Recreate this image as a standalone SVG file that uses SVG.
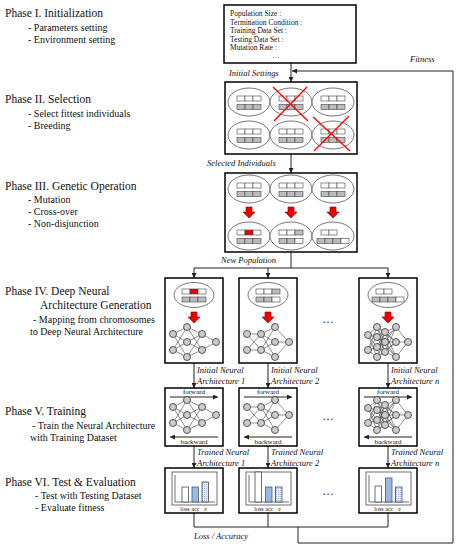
<svg xmlns="http://www.w3.org/2000/svg" xmlns:xlink="http://www.w3.org/1999/xlink" width="461" height="550" viewBox="0 0 461 550" font-family="'Liberation Serif','Times New Roman',serif">
<style>
text{font-family:"Liberation Serif","Times New Roman",serif;fill:#111}
.ph{font-size:11.5px}
.sub{font-size:10px}
.par{font-size:7.5px}
.lab{font-size:8.5px;font-style:italic}
.sm{font-size:7px}
.xs{font-size:6px}
.box{fill:#fff;stroke:#000;stroke-width:1.5}
.ell{fill:#fff;stroke:#555;stroke-width:0.8}
.cw{fill:#fff;stroke:#444;stroke-width:0.6}
.cg{fill:#bbb;stroke:#444;stroke-width:0.6}
.cr{fill:#e00;stroke:#444;stroke-width:0.6}
.ln{fill:none;stroke:#222;stroke-width:1}
.edge{fill:none;stroke:#222;stroke-width:0.5}
.nd{fill:#ccc;stroke:#333;stroke-width:0.8}
.rar{fill:#e00;stroke:#800;stroke-width:0.6}
.x{stroke:#f00;stroke-width:1.3}
.fr{fill:none;stroke:#333;stroke-width:0.7}
.bw{fill:#fff;stroke:#333;stroke-width:0.7}
.bb{fill:#9db9de;stroke:#2a4a7a;stroke-width:0.7}
.bl{fill:url(#dots);stroke:#333;stroke-width:0.7}
</style>
<defs>
<marker id="ah" viewBox="0 0 6 6" refX="6" refY="3" markerWidth="5" markerHeight="5" markerUnits="userSpaceOnUse" orient="auto"><path d="M0,0L6,3L0,6z" fill="#222"/></marker>
<pattern id="dots" width="2" height="2" patternUnits="userSpaceOnUse"><rect width="2" height="2" fill="#e4eef8"/><rect width="1" height="1" fill="#9db9de"/></pattern>
<g id="cells"><rect class="cw" x="-12" y="-6" width="8" height="5"/><rect class="cw" x="-4" y="-6" width="8" height="5"/><rect class="cw" x="4" y="-6" width="8" height="5"/><rect class="cg" x="-12" y="2.5" width="8" height="5"/><rect class="cg" x="-4" y="2.5" width="8" height="5"/><rect class="cg" x="4" y="2.5" width="8" height="5"/></g>
<g id="ind"><ellipse class="ell" rx="21" ry="14"/><use xlink:href="#cells"/></g>
<path id="rarrow" class="rar" d="M-3,0H3V5H6L0,11L-6,5H-3Z"/>
<g id="net1"><path class="edge" d="M-21,-8L-7,-15M-21,-8L-7,0M-21,-8L-7,15M-21,8L-7,-15M-21,8L-7,0M-21,8L-7,15M-7,-15L8,-8M-7,-15L8,8M-7,0L8,-8M-7,0L8,8M-7,15L8,-8M-7,15L8,8M8,-8L22,0M8,8L22,0"/><circle class="nd" cx="-21" cy="-8" r="3.5"/><circle class="nd" cx="-21" cy="8" r="3.5"/><circle class="nd" cx="-7" cy="-15" r="3.5"/><circle class="nd" cx="-7" cy="0" r="3.5"/><circle class="nd" cx="-7" cy="15" r="3.5"/><circle class="nd" cx="8" cy="-8" r="3.5"/><circle class="nd" cx="8" cy="8" r="3.5"/><circle class="nd" cx="22" cy="0" r="3.5"/></g>
<g id="net2"><path class="edge" d="M-21,-8L-7,-8M-21,-8L-7,8M-21,8L-7,-8M-21,8L-7,8M-7,-8L7,-15M-7,-8L7,0M-7,-8L7,15M-7,8L7,-15M-7,8L7,0M-7,8L7,15M7,-15L21,0M7,0L21,0M7,15L21,0"/><circle class="nd" cx="-21" cy="-8" r="3.5"/><circle class="nd" cx="-21" cy="8" r="3.5"/><circle class="nd" cx="-7" cy="-8" r="3.5"/><circle class="nd" cx="-7" cy="8" r="3.5"/><circle class="nd" cx="7" cy="-15" r="3.5"/><circle class="nd" cx="7" cy="0" r="3.5"/><circle class="nd" cx="7" cy="15" r="3.5"/><circle class="nd" cx="21" cy="0" r="3.5"/></g>
<g id="net3"><path class="edge" d="M-20,-7L-11,-15M-20,-7L-11,-5M-20,-7L-11,5M-20,-7L-11,15M-20,8L-11,-15M-20,8L-11,-5M-20,8L-11,5M-20,8L-11,15M-11,-15L-3,-10M-11,-15L-3,0M-11,-15L-3,10M-11,-5L-3,-10M-11,-5L-3,0M-11,-5L-3,10M-11,5L-3,-10M-11,5L-3,0M-11,5L-3,10M-11,15L-3,-10M-11,15L-3,0M-11,15L-3,10M-11,-15L8,0M-11,15L8,0M-11,-5L8,15M-11,5L8,-15M-3,-10L8,-15M-3,-10L8,0M-3,-10L8,15M-3,0L8,-15M-3,0L8,0M-3,0L8,15M-3,10L8,-15M-3,10L8,0M-3,10L8,15M8,-15L20,0M8,0L20,0M8,15L20,0"/><circle class="nd" cx="-20" cy="-7" r="3.5"/><circle class="nd" cx="-20" cy="8" r="3.5"/><circle class="nd" cx="-11" cy="-15" r="3.5"/><circle class="nd" cx="-11" cy="-5" r="3.5"/><circle class="nd" cx="-11" cy="5" r="3.5"/><circle class="nd" cx="-11" cy="15" r="3.5"/><circle class="nd" cx="-3" cy="-10" r="3.5"/><circle class="nd" cx="-3" cy="0" r="3.5"/><circle class="nd" cx="-3" cy="10" r="3.5"/><circle class="nd" cx="8" cy="-15" r="3.5"/><circle class="nd" cx="8" cy="0" r="3.5"/><circle class="nd" cx="8" cy="15" r="3.5"/><circle class="nd" cx="20" cy="0" r="3.5"/></g>
<g id="fb"><line class="ln" x1="-24" y1="9" x2="24" y2="9" stroke-width="0.8" marker-end="url(#ah)"/><text class="sm" x="0" y="6" text-anchor="middle">forward</text><line class="ln" x1="24" y1="49" x2="-24" y2="49" stroke-width="0.8" marker-end="url(#ah)"/><text class="sm" x="0" y="56" text-anchor="middle">backward</text></g>
<g id="chartbase"><rect class="fr" x="-22" y="4" width="45" height="33"/><path class="fr" d="M-19,7V34H21"/><text class="xs" x="-9" y="42.5" text-anchor="middle">loss</text><text class="xs" x="1.5" y="42.5" text-anchor="middle">acc</text><text class="xs" x="11.5" y="42.5" text-anchor="middle" font-style="italic">e</text></g>
</defs>

<g id="phase-text">
<text class="ph" x="5" y="17">Phase I. Initialization</text>
<text class="sub" x="28" y="31">- Parameters setting</text>
<text class="sub" x="28" y="43">- Environment setting</text>
<text class="ph" x="5" y="103">Phase II. Selection</text>
<text class="sub" x="28" y="117">- Select fittest individuals</text>
<text class="sub" x="28" y="129">- Breeding</text>
<text class="ph" x="5" y="190">Phase III. Genetic Operation</text>
<text class="sub" x="28" y="203">- Mutation</text>
<text class="sub" x="28" y="215">- Cross-over</text>
<text class="sub" x="28" y="227">- Non-disjunction</text>
<text class="ph" x="5" y="295">Phase IV. Deep Neural</text>
<text class="ph" x="40" y="309">Architecture Generation</text>
<text class="sub" x="33" y="323">- Mapping from chromosomes</text>
<text class="sub" x="30" y="335">to Deep Neural Architecture</text>
<text class="ph" x="5" y="415">Phase V. Training</text>
<text class="sub" x="32" y="429">- Train the Neural Architecture</text>
<text class="sub" x="30" y="441">with Training Dataset</text>
<text class="ph" x="5" y="486">Phase VI. Test &amp; Evaluation</text>
<text class="sub" x="35" y="499">- Test with Testing Dataset</text>
<text class="sub" x="35" y="511">- Evaluate fitness</text>
</g>

<g id="connectors">
<line class="ln" x1="291" y1="63" x2="291" y2="82" marker-end="url(#ah)"/>
<line class="ln" x1="291" y1="154" x2="291" y2="173" marker-end="url(#ah)"/>
<path class="ln" d="M291,252V268M194,268H388"/>
<line class="ln" x1="194" y1="268" x2="194" y2="278" marker-end="url(#ah)"/>
<line class="ln" x1="268" y1="268" x2="268" y2="278" marker-end="url(#ah)"/>
<line class="ln" x1="388" y1="268" x2="388" y2="278" marker-end="url(#ah)"/>
<line class="ln" x1="194" y1="363" x2="194" y2="388" marker-end="url(#ah)"/>
<line class="ln" x1="268" y1="363" x2="268" y2="388" marker-end="url(#ah)"/>
<line class="ln" x1="388" y1="363" x2="388" y2="388" marker-end="url(#ah)"/>
<line class="ln" x1="194" y1="446" x2="194" y2="468" marker-end="url(#ah)"/>
<line class="ln" x1="268" y1="446" x2="268" y2="468" marker-end="url(#ah)"/>
<line class="ln" x1="388" y1="446" x2="388" y2="468" marker-end="url(#ah)"/>
<path class="ln" d="M194,513V527H388V513M268,513V527M298,527V543H453V71H292" marker-end="url(#ah)"/>
<text class="lab" x="229" y="76">Initial Settings</text>
<text class="lab" x="410" y="62">Fitness</text>
<text class="lab" x="207" y="166">Selected Individuals</text>
<text class="lab" x="221" y="263">New Population</text>
<text class="lab" x="197" y="373">Initial Neural</text>
<text class="lab" x="197" y="384">Architecture 1</text>
<text class="lab" x="271" y="373">Initial Neural</text>
<text class="lab" x="271" y="384">Architecture 2</text>
<text class="lab" x="391" y="373">Initial Neural</text>
<text class="lab" x="391" y="384">Architecture n</text>
<text class="lab" x="197" y="455">Trained Neural</text>
<text class="lab" x="197" y="466">Architecture 1</text>
<text class="lab" x="271" y="455">Trained Neural</text>
<text class="lab" x="271" y="466">Architecture 2</text>
<text class="lab" x="391" y="455">Trained Neural</text>
<text class="lab" x="391" y="466">Architecture n</text>
<text class="lab" x="194" y="539">Loss / Accuracy</text>
</g>

<g id="init-box">
<rect class="box" x="224" y="5" width="132" height="58"/>
<text class="par" x="230" y="16">Population Size :</text>
<text class="par" x="230" y="24.5">Termination Condition :</text>
<text class="par" x="230" y="33">Training Data Set :</text>
<text class="par" x="230" y="41.5">Testing Data Set :</text>
<text class="par" x="230" y="50">Mutation Rate :</text>
<text class="par" x="272" y="58">…</text>
</g>

<g id="selection-box">
<rect class="box" x="225" y="82" width="132" height="72"/>
<use xlink:href="#ind" x="249" y="102"/><use xlink:href="#ind" x="291" y="102"/><use xlink:href="#ind" x="333" y="102"/>
<use xlink:href="#ind" x="249" y="135"/><use xlink:href="#ind" x="291" y="135"/><use xlink:href="#ind" x="333" y="135"/>
<path class="x" d="M273,87L308,121M307,87L274,121M313,117L350,151M349,116L314,151"/>
</g>

<g id="genetic-box">
<rect class="box" x="225" y="173" width="132" height="79"/>
<use xlink:href="#ind" x="249" y="189"/><use xlink:href="#ind" x="291" y="189"/><use xlink:href="#ind" x="333" y="189"/>
<use xlink:href="#rarrow" x="249" y="207"/><use xlink:href="#rarrow" x="291" y="207"/><use xlink:href="#rarrow" x="333" y="207"/>
<g transform="translate(249,236)"><ellipse class="ell" rx="21" ry="14"/><rect class="cw" x="-12" y="-6" width="8" height="5"/><rect class="cr" x="-4" y="-6" width="8" height="5"/><rect class="cw" x="4" y="-6" width="8" height="5"/><rect class="cg" x="-12" y="2.5" width="8" height="5"/><rect class="cg" x="-4" y="2.5" width="8" height="5"/><rect class="cg" x="4" y="2.5" width="8" height="5"/></g>
<g transform="translate(291,236)"><ellipse class="ell" rx="21" ry="14"/><rect class="cw" x="-12" y="-6" width="8" height="5"/><rect class="cw" x="-4" y="-6" width="8" height="5"/><rect class="cg" x="4" y="-6" width="8" height="5"/><rect class="cg" x="-12" y="2.5" width="8" height="5"/><rect class="cg" x="-4" y="2.5" width="8" height="5"/><rect class="cw" x="4" y="2.5" width="8" height="5"/></g>
<g transform="translate(333,236)"><ellipse class="ell" rx="21" ry="14"/><rect class="cw" x="-12" y="-6" width="8" height="5"/><rect class="cw" x="-4" y="-6" width="8" height="5"/><rect class="cg" x="-16" y="2.5" width="8" height="5"/><rect class="cg" x="-8" y="2.5" width="8" height="5"/><rect class="cg" x="0" y="2.5" width="8" height="5"/><rect class="cw" x="8" y="2.5" width="8" height="5"/></g>
</g>

<g id="arch1">
<rect class="box" x="165" y="278" width="58" height="85"/>
<g transform="translate(194,295)"><ellipse class="ell" rx="20" ry="12.5"/><rect class="cw" x="-12" y="-6" width="8" height="5"/><rect class="cr" x="-4" y="-6" width="8" height="5"/><rect class="cw" x="4" y="-6" width="8" height="5"/><rect class="cg" x="-12" y="2" width="8" height="5"/><rect class="cg" x="-4" y="2" width="8" height="5"/><rect class="cg" x="4" y="2" width="8" height="5"/></g>
<use xlink:href="#rarrow" x="194" y="312"/>
<use xlink:href="#net1" x="194" y="342"/>
</g>
<g id="arch2">
<rect class="box" x="239" y="278" width="58" height="85"/>
<g transform="translate(268,295)"><ellipse class="ell" rx="20" ry="12.5"/><rect class="cw" x="-12" y="-6" width="8" height="5"/><rect class="cw" x="-4" y="-6" width="8" height="5"/><rect class="cg" x="4" y="-6" width="8" height="5"/><rect class="cg" x="-12" y="2" width="8" height="5"/><rect class="cg" x="-4" y="2" width="8" height="5"/><rect class="cw" x="4" y="2" width="8" height="5"/></g>
<use xlink:href="#rarrow" x="268" y="312"/>
<use xlink:href="#net2" x="268" y="342"/>
</g>
<text class="ph" x="328" y="323" text-anchor="middle">…</text>
<g id="archn">
<rect class="box" x="359" y="278" width="58" height="85"/>
<g transform="translate(388,295)"><ellipse class="ell" rx="20" ry="12.5"/><rect class="cw" x="-12" y="-6" width="8" height="5"/><rect class="cw" x="-4" y="-6" width="8" height="5"/><rect class="cg" x="-16" y="2" width="8" height="5"/><rect class="cg" x="-8" y="2" width="8" height="5"/><rect class="cg" x="0" y="2" width="8" height="5"/><rect class="cw" x="8" y="2" width="8" height="5"/></g>
<use xlink:href="#rarrow" x="388" y="312"/>
<use xlink:href="#net3" x="388" y="342"/>
</g>

<g id="train1"><rect class="box" x="165" y="388" width="58" height="58"/><use xlink:href="#fb" x="194" y="388"/><use xlink:href="#net1" x="194" y="415"/></g>
<g id="train2"><rect class="box" x="239" y="388" width="58" height="58"/><use xlink:href="#fb" x="268" y="388"/><use xlink:href="#net2" x="268" y="415"/></g>
<text class="ph" x="328" y="420" text-anchor="middle">…</text>
<g id="trainn"><rect class="box" x="359" y="388" width="58" height="58"/><use xlink:href="#fb" x="388" y="388"/><use xlink:href="#net3" x="388" y="415"/></g>

<g id="eval1"><rect class="box" x="165" y="468" width="58" height="45"/><use xlink:href="#chartbase" x="194" y="468"/>
<rect class="bw" x="182" y="487" width="6.5" height="15"/><rect class="bb" x="192" y="487" width="6.5" height="15"/><rect class="bl" x="202" y="482" width="6.5" height="20"/></g>
<g id="eval2"><rect class="box" x="239" y="468" width="58" height="45"/><use xlink:href="#chartbase" x="268" y="468"/>
<rect class="bw" x="255" y="472" width="6.5" height="30"/><rect class="bb" x="265.5" y="487" width="6.5" height="15"/><rect class="bl" x="275.5" y="487" width="6.5" height="15"/></g>
<text class="ph" x="328" y="495" text-anchor="middle">…</text>
<g id="evaln"><rect class="box" x="359" y="468" width="58" height="45"/><use xlink:href="#chartbase" x="388" y="468"/>
<rect class="bw" x="375" y="486" width="6.5" height="16"/><rect class="bb" x="385.5" y="478" width="6.5" height="24"/><rect class="bl" x="395.5" y="487" width="6.5" height="15"/></g>
</svg>
